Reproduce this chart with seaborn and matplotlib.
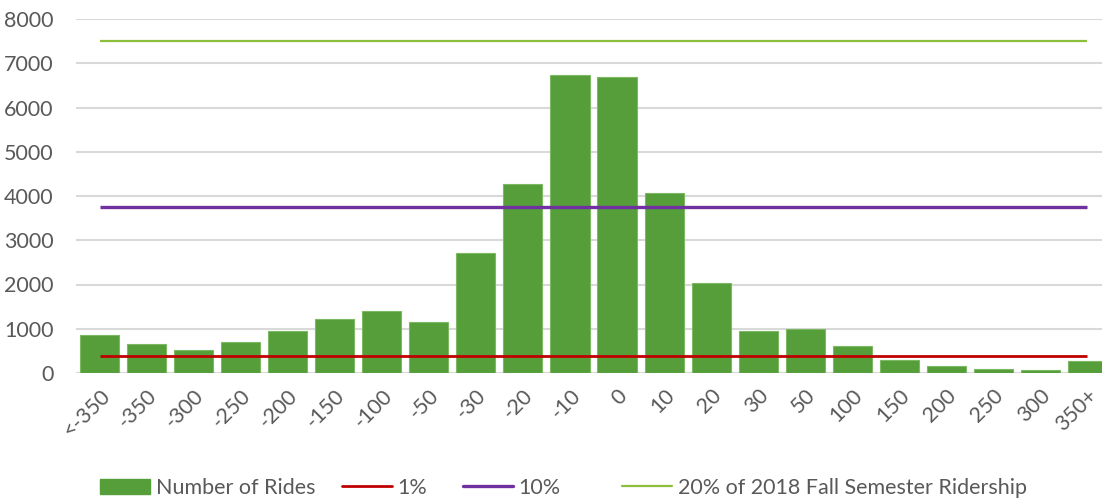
import matplotlib
matplotlib.use("Agg")
import matplotlib.pyplot as plt
from matplotlib.patches import Patch
from matplotlib.lines import Line2D
import seaborn as sns
import pandas as pd

# Ride-time difference bins and ride counts
categories = ["<-350", "-350", "-300", "-250", "-200", "-150", "-100", "-50",
              "-30", "-20", "-10", "0", "10", "20", "30", "50", "100", "150",
              "200", "250", "300", "350+"]
rides = [865, 660, 520, 700, 950, 1210, 1400, 1150,
         2710, 4270, 6740, 6680, 4070, 2040, 950, 1000, 610, 290,
         160, 90, 70, 270]

# Reference thresholds (share of 2018 fall semester ridership)
threshold_labels = ["1%", "10%", "20% of 2018 Fall Semester Ridership"]
threshold_values = [375, 3750, 7500]
threshold_colors = ["#C00000", "#7030A0", "#8CBF3C"]
threshold_widths = [2.0, 2.4, 1.6]

bar_label = "Number of Rides"
bar_color = "#559E3A"
text_color = "#595959"
grid_color = "#D9D9D9"
font_size = 15.5

sns.set_theme(style="white")
plt.rcParams["font.family"] = ["Lato", "DejaVu Sans"]

df = pd.DataFrame({"bin": categories, "rides": rides})

W, H = 1102, 499
fig = plt.figure(figsize=(W / 100, H / 100), dpi=100)
ax = fig.add_axes([76 / W, 1 - 373 / H, (1111 - 76) / W, (373 - 19) / H])

sns.barplot(data=df, x="bin", y="rides", color=bar_color, saturation=1,
            width=0.83, edgecolor="#7DB962", linewidth=0.8, ax=ax, zorder=2)

n = len(categories)
for val, col, lw in zip(threshold_values, threshold_colors, threshold_widths):
    ax.plot([0, n - 1], [val, val], color=col, lw=lw, zorder=3,
            solid_capstyle="butt")

ax.set_xlim(-0.5, n - 0.5)
ax.set_ylim(0, 8000)
ax.set_yticks(range(0, 8001, 1000))
ax.yaxis.grid(True, color=grid_color, lw=1.5, zorder=0)
ax.set_axisbelow(True)
for side in ["top", "right", "left", "bottom"]:
    ax.spines[side].set_visible(False)
ax.axhline(0, color=grid_color, lw=1.5, zorder=1)

ax.set_xlabel("")
ax.set_ylabel("")
ax.tick_params(axis="y", length=0, pad=16, labelsize=font_size, labelcolor=text_color)
ax.tick_params(axis="x", length=0, pad=9, labelsize=font_size, labelcolor=text_color)
for lbl in ax.get_xticklabels():
    lbl.set_rotation(45)
    lbl.set_ha("right")
    lbl.set_rotation_mode("anchor")

# Legend entries laid out along the bottom edge
handles = [Patch(facecolor=bar_color, edgecolor=bar_color, label=bar_label)]
for lab, col, lw in zip(threshold_labels, threshold_colors, threshold_widths):
    handles.append(Line2D([0], [0], color=col, lw=lw, label=lab))

entry_x = [100, 342, 463, 622]
for h, x0 in zip(handles, entry_x):
    leg = fig.legend(handles=[h], loc="center left",
                     bbox_to_anchor=(x0 / W, 1 - 488 / H),
                     frameon=False, fontsize=font_size, handlelength=2.33,
                     handleheight=0.7, handletextpad=0.25,
                     borderpad=0, borderaxespad=0)
    for t in leg.get_texts():
        t.set_color(text_color)

fig.savefig("out.png", dpi=100)
